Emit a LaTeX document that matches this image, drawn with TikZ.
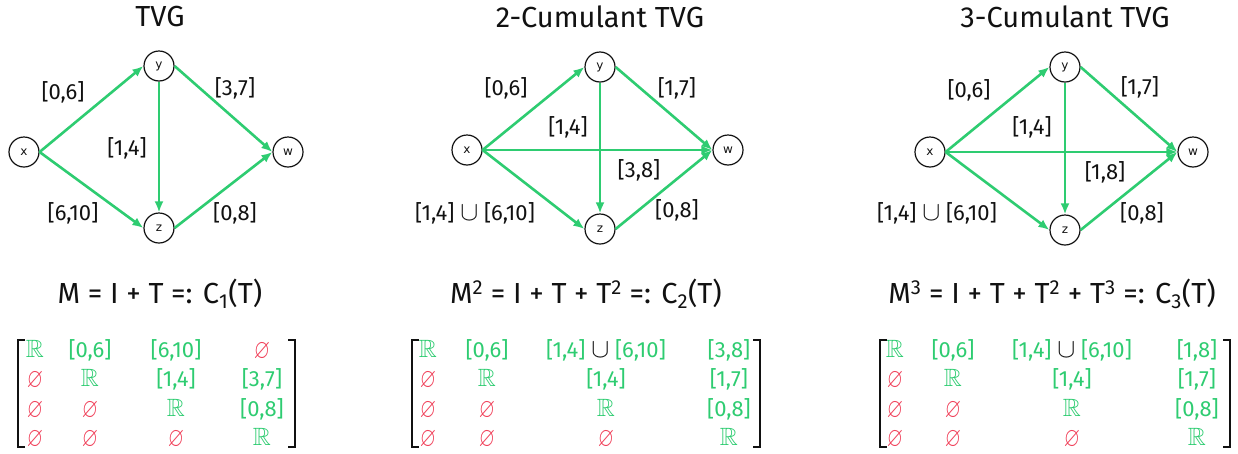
\documentclass[tikz,border=0pt]{standalone}
\usepackage{amssymb}
\usepackage{fontspec}
\setmainfont{Fira Sans}
\newfontfamily\vtxfont{DejaVu Sans}
\usetikzlibrary{arrows.meta, positioning}
\definecolor{tvgGreen}{HTML}{2ECC71}
\definecolor{tvgRed}{HTML}{F0415A}
\definecolor{tvgInk}{HTML}{111111}
\newcommand{\rset}{{\fontsize{25}{30}\selectfont$\mathbb{R}$}}
\newcommand{\emset}{\textcolor{tvgRed}{\raisebox{-1.5pt}{\scalebox{0.95}[1.25]{$\varnothing$}}}}
\newcommand{\uni}{\textcolor{tvgInk}{\scalebox{1.3}{$\cup$}}}

\begin{document}
\begin{tikzpicture}[x=1pt, y=-1pt, text=tvgInk,
        vtx/.style={circle, draw=tvgInk, line width=1.2pt, minimum size=30pt, inner sep=0pt, font=\vtxfont\fontsize{12}{14}\selectfont},
        edge/.style={-{Latex[length=11pt, width=9pt]}, tvgGreen, line width=2.6pt},
        lbl/.style={font=\fontsize{22}{26}\selectfont, inner sep=0pt},
        ttl/.style={font=\fontsize{29}{35}\selectfont, inner sep=0pt},
        ent/.style={font=\fontsize{22}{26}\selectfont, text=tvgGreen, anchor=base, inner sep=0pt},
        brk/.style={draw=tvgInk, line width=2.6pt}]
        \useasboundingbox (0,0) rectangle (1238,453);
        % TVG
        \node[ttl] (t1) at (160,17) {TVG};
        \node[vtx] (x1) at (24,152) {x};
        \node[vtx] (y1) at (159,66) {y};
        \node[vtx] (w1) at (288,152) {w};
        \node[vtx] (z1) at (159,228) {z};
        \draw[edge] (x1.east) -- (y1.west);
        \draw[edge] (x1.east) -- (z1.west);
        \draw[edge] (y1.south) -- (z1.north);
        \draw[edge] (y1.east) -- (w1.west);
        \draw[edge] (z1.east) -- (w1.west);
        \node[lbl] (l1a) at (63,92) {[0,6]};
        \node[lbl] (l1b) at (235,88) {[3,7]};
        \node[lbl] (l1c) at (127,148) {[1,4]};
        \node[lbl] (l1d) at (73,213) {[6,10]};
        \node[lbl] (l1e) at (235,213) {[0,8]};
        % 2-Cumulant TVG
        \node[ttl] (t2) at (600,17) {2-Cumulant TVG};
        \node[vtx] (x2) at (467,150) {x};
        \node[vtx] (y2) at (600,67) {y};
        \node[vtx] (w2) at (728,150) {w};
        \node[vtx] (z2) at (600,229) {z};
        \draw[edge] (x2.east) -- (y2.west);
        \draw[edge] (x2.east) -- (z2.west);
        \draw[edge] (x2.east) -- (w2.west);
        \draw[edge] (y2.south) -- (z2.north);
        \draw[edge] (y2.east) -- (w2.west);
        \draw[edge] (z2.east) -- (w2.west);
        \node[lbl] (l2a) at (506,88) {[0,6]};
        \node[lbl] (l2b) at (677,88) {[1,7]};
        \node[lbl] (l2c) at (568,127) {[1,4]};
        \node[lbl] (l2d) at (639,170) {[3,8]};
        \node[lbl] (l2e) at (475,213) {[1,4] \uni{} [6,10]};
        \node[lbl] (l2f) at (677,210) {[0,8]};
        % 3-Cumulant TVG
        \node[ttl] (t3) at (1065,17) {3-Cumulant TVG};
        \node[vtx] (x3) at (930,152) {x};
        \node[vtx] (y3) at (1065,67) {y};
        \node[vtx] (w3) at (1193,152) {w};
        \node[vtx] (z3) at (1065,230) {z};
        \draw[edge] (x3.east) -- (y3.west);
        \draw[edge] (x3.east) -- (z3.west);
        \draw[edge] (x3.east) -- (w3.west);
        \draw[edge] (y3.south) -- (z3.north);
        \draw[edge] (y3.east) -- (w3.west);
        \draw[edge] (z3.east) -- (w3.west);
        \node[lbl] (l3a) at (969,90) {[0,6]};
        \node[lbl] (l3b) at (1140,87) {[1,7]};
        \node[lbl] (l3c) at (1032,127) {[1,4]};
        \node[lbl] (l3d) at (1105,172) {[1,8]};
        \node[lbl] (l3e) at (937,213) {[1,4] \uni{} [6,10]};
        \node[lbl] (l3f) at (1142,213) {[0,8]};
        % formulas
        \node[ttl] (f1) at (160,294) {M = I + T =: C\textsubscript{1}(T)};
        \node[ttl] (f2) at (586,294) {M\textsuperscript{2} = I + T + T\textsuperscript{2} =: C\textsubscript{2}(T)};
        \node[ttl] (f3) at (1052,294) {M\textsuperscript{3} = I + T + T\textsuperscript{2} + T\textsuperscript{3} =: C\textsubscript{3}(T)};
        % matrices
        \foreach \yb/\a/\b/\c/\d [count=\r] in {357/\rset/{[0,6]}/{[6,10]}/\emset, 386/\emset/\rset/{[1,4]}/{[3,7]}, 416/\emset/\emset/\rset/{[0,8]}, 445/\emset/\emset/\emset/\rset} {
          \node[ent] (m1-\r-1) at (35,\yb) {\a};
          \node[ent] (m1-\r-2) at (90,\yb) {\b};
          \node[ent] (m1-\r-3) at (176,\yb) {\c};
          \node[ent] (m1-\r-4) at (262,\yb) {\d};
        }
        \foreach \yb/\a/\b/\c/\d [count=\r] in {357/\rset/{[0,6]}/{[1,4] \uni{} [6,10]}/{[3,8]}, 386/\emset/\rset/{[1,4]}/{[1,7]}, 416/\emset/\emset/\rset/{[0,8]}, 445/\emset/\emset/\emset/\rset} {
          \node[ent] (m2-\r-1) at (428,\yb) {\a};
          \node[ent] (m2-\r-2) at (487,\yb) {\b};
          \node[ent] (m2-\r-3) at (606,\yb) {\c};
          \node[ent] (m2-\r-4) at (729,\yb) {\d};
        }
        \foreach \yb/\a/\b/\c/\d [count=\r] in {357/\rset/{[0,6]}/{[1,4] \uni{} [6,10]}/{[1,8]}, 386/\emset/\rset/{[1,4]}/{[1,7]}, 416/\emset/\emset/\rset/{[0,8]}, 445/\emset/\emset/\emset/\rset} {
          \node[ent] (m3-\r-1) at (895,\yb) {\a};
          \node[ent] (m3-\r-2) at (953,\yb) {\b};
          \node[ent] (m3-\r-3) at (1072,\yb) {\c};
          \node[ent] (m3-\r-4) at (1197,\yb) {\d};
        }
        \foreach \lx/\rx in {18/295, 412/760, 880/1230} {
          \draw[brk] (\lx+7,340) -- (\lx,340) -- (\lx,447) -- (\lx+7,447);
          \draw[brk] (\rx-7,340) -- (\rx,340) -- (\rx,447) -- (\rx-7,447);
        }
      \end{tikzpicture}
\end{document}
